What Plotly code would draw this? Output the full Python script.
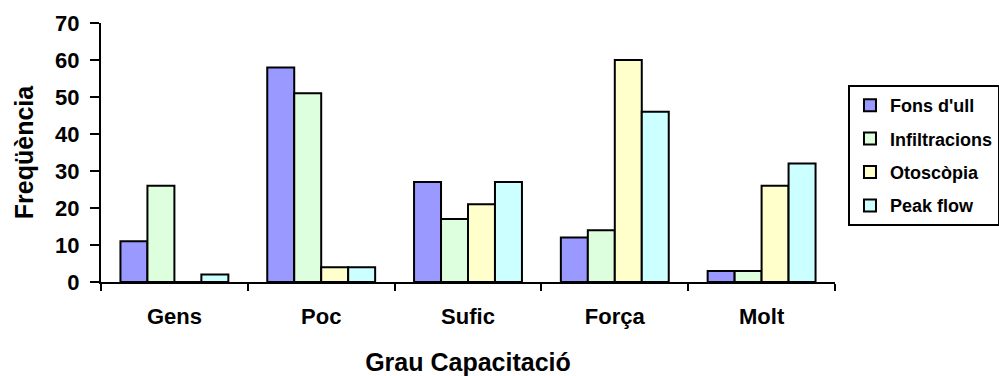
import plotly.graph_objects as go

categories = ["Gens", "Poc", "Sufic", "Força", "Molt"]
fons_ull = [11, 58, 27, 12, 3]
infiltracions = [26, 51, 17, 14, 3]
otoscopia = [0, 4, 21, 60, 26]
peak_flow = [2, 4, 27, 46, 32]

series = [
    ("Fons d'ull", fons_ull, "#9999FF"),
    ("Infiltracions", infiltracions, "#DDFFDD"),
    ("Otoscòpia", otoscopia, "#FFFFCC"),
    ("Peak flow", peak_flow, "#CCFFFF"),
]

FONT = "Liberation Sans, Arial, sans-serif"

fig = go.Figure()
for i, (name, vals, col) in enumerate(series):
    fig.add_trace(go.Bar(
        x=categories, y=vals, name=name, legendgroup=f"g{i}",
        marker=dict(color=col, line=dict(color="black", width=2)),
    ))

fig.update_layout(
    width=999, height=376,
    barmode="group", bargap=0.265, bargroupgap=0,
    plot_bgcolor="white", paper_bgcolor="white",
    margin=dict(l=101, r=164, t=23, b=94, autoexpand=False),
    font=dict(family=FONT, color="black"),
    showlegend=True,
    legend=dict(
        x=1.0177, y=0.7606, xanchor="left", yanchor="top",
        bordercolor="black", borderwidth=2,
        font=dict(family=FONT, size=18, color="black", weight="bold"),
        traceorder="grouped", tracegroupgap=7, itemwidth=30,
    ),
)
fig.update_xaxes(
    showline=True, linecolor="black", linewidth=2,
    ticks="outside", tickson="boundaries", ticklen=7, tickwidth=2, tickcolor="black",
    ticklabelstandoff=14,
    tickfont=dict(family=FONT, size=22, color="black", weight="bold"),
    title=dict(text="Grau Capacitació", font=dict(family=FONT, size=25, color="black", weight="bold"), standoff=26),
    showgrid=False,
)
fig.update_yaxes(
    range=[0, 70], dtick=10,
    showline=True, linecolor="black", linewidth=2,
    ticks="outside", ticklen=9, tickwidth=2, tickcolor="black",
    ticklabelstandoff=6,
    tickfont=dict(family=FONT, size=22, color="black", weight="bold"),
    title=dict(text="Freqüència", font=dict(family=FONT, size=25, color="black", weight="bold"), standoff=14),
    showgrid=False, zeroline=False,
)

fig.write_html("out.html")
